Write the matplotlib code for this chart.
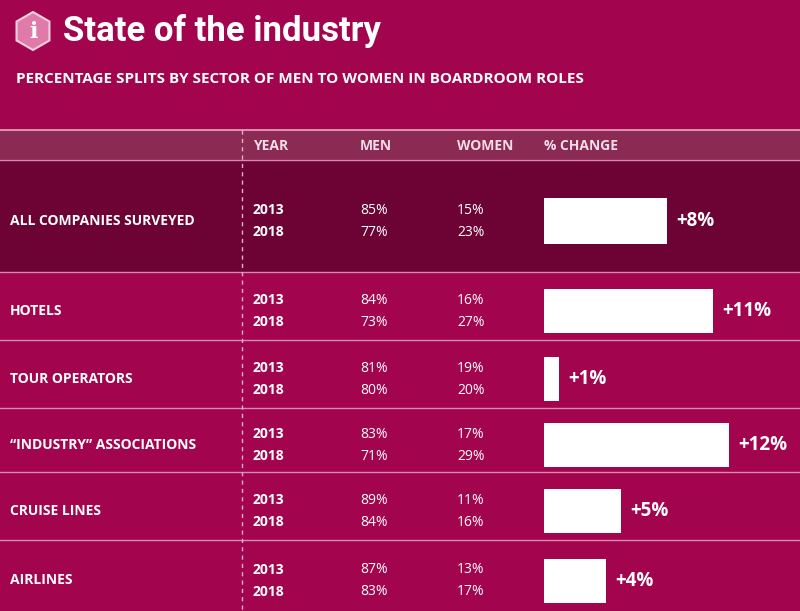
import matplotlib.pyplot as plt
from matplotlib.patches import Rectangle, RegularPolygon

sectors = ['ALL COMPANIES SURVEYED', 'HOTELS', 'TOUR OPERATORS',
           '\u201cINDUSTRY\u201d ASSOCIATIONS', 'CRUISE LINES', 'AIRLINES']
men_2013 = [85, 84, 81, 83, 89, 87]
men_2018 = [77, 73, 80, 71, 84, 83]
women_2013 = [15, 16, 19, 17, 11, 13]
women_2018 = [23, 27, 20, 29, 16, 17]
change = [8, 11, 1, 12, 5, 4]

# row bounds in pixels
row_top = [160, 272, 340, 408, 472, 540]
row_bot = [272, 340, 408, 472, 540, 611]

bg = '#a2044e'
W, H = 800, 611
fig = plt.figure(figsize=(8, 6.11), dpi=100, facecolor=bg)
ax = fig.add_axes([0, 0, 1, 1])
ax.set_xlim(0, W)
ax.set_ylim(H, 0)
ax.axis('off')
ax.add_patch(Rectangle((0, 0), W, H, color=bg, zorder=0))

# title
ax.add_patch(RegularPolygon((33, 31), 6, radius=19, color='#e07aa8', ec='#f4d0e0', lw=1.5))
ax.text(33, 32, 'i', color='white', fontsize=16, fontweight='bold', ha='center', va='center', family='DejaVu Serif')
ax.text(63, 31, 'State of the industry', color='white', fontsize=25, fontweight='bold',
        va='center', family='Roboto', fontstretch='condensed')
ax.text(16, 79, 'PERCENTAGE SPLITS BY SECTOR OF MEN TO WOMEN IN BOARDROOM ROLES', color='white',
        fontsize=11, fontweight='bold', va='center', family='Open Sans')

# header row
ax.add_patch(Rectangle((0, 130), W, 30, color='#8b2a52', zorder=1))
ax.plot([0, W], [130, 130], color='#e8a8c4', lw=1.2, zorder=2)
for x, lab in [(253, 'YEAR'), (360, 'MEN'), (457, 'WOMEN'), (544, '% CHANGE')]:
    ax.text(x, 146, lab, color='#f4dde8', fontsize=10, fontweight='bold', va='center', family='Open Sans')

ax.add_patch(Rectangle((0, row_top[0]), W, row_bot[0] - row_top[0], color='#6d0234', zorder=1))
yc = [(t + b) / 2 + 5 for t, b in zip(row_top, row_bot)]
for i in range(len(sectors)):
    ax.plot([0, W], [row_top[i], row_top[i]], color='#d88aae', lw=1, zorder=2)
    ax.text(10, yc[i], sectors[i], color='white', fontsize=10, fontweight='bold', va='center', family='Open Sans')
    for dy, yr, m, w in [(-11, '2013', men_2013[i], women_2013[i]), (11, '2018', men_2018[i], women_2018[i])]:
        ax.text(253, yc[i] + dy, yr, color='white', fontsize=10, fontweight='bold', va='center', family='Open Sans')
        ax.text(360, yc[i] + dy, f'{m}%', color='white', fontsize=10, va='center', family='Open Sans')
        ax.text(457, yc[i] + dy, f'{w}%', color='white', fontsize=10, va='center', family='Open Sans')
ax.plot([242, 242], [130, H], color='#e8b0c8', lw=1, ls=(0, (3, 3)), zorder=3)

# bars
px_per_pct = 15.4
bx = fig.add_axes([544 / W, 0, (W - 544) / W, 1])
bx.set_xlim(0, (W - 544) / px_per_pct)
bx.set_ylim(H, 0)
bx.axis('off')
bx.patch.set_alpha(0)
hts = [46, 44, 44, 44, 44, 44]
bx.barh(yc, change, height=hts, left=0, color='white')
for y, c in zip(yc, change):
    bx.text(c + 0.6, y, f'+{c}%', color='white', fontsize=13.5, fontweight='bold', va='center', family='Open Sans')

fig.savefig('out.png', dpi=100, facecolor=bg)
